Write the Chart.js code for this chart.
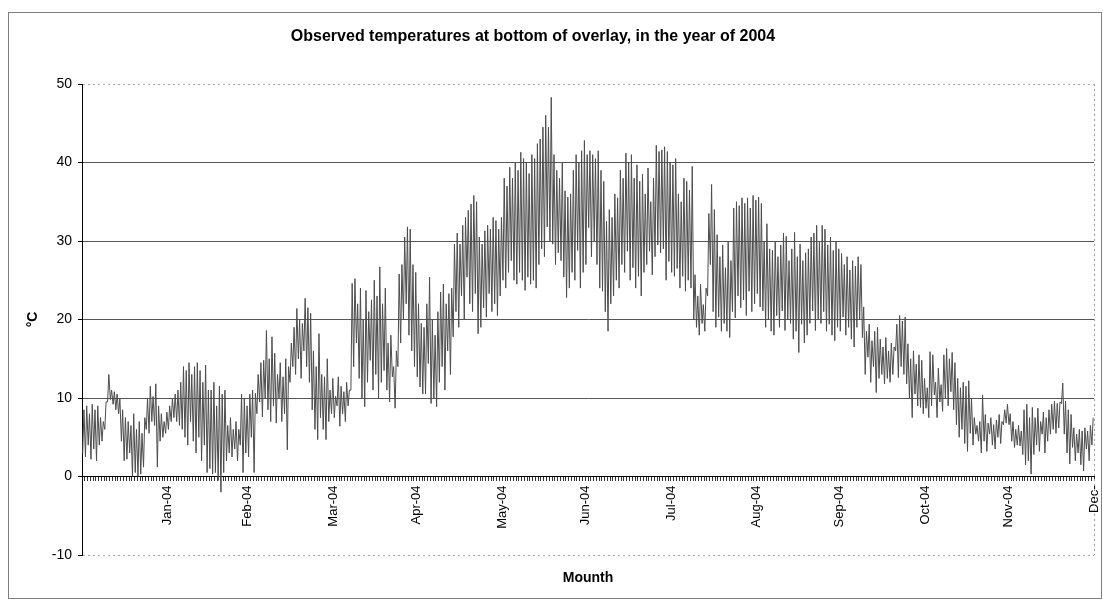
<!DOCTYPE html>
<html>
<head>
<meta charset="utf-8">
<title>Observed temperatures 2004</title>
<script src="https://cdn.jsdelivr.net/npm/chart.js@4.4.1/dist/chart.umd.min.js"></script>
<style>
    body { margin: 0; background: #fff; }
</style>
</head>
<body>
<canvas id="tempChart" width="1103" height="600"></canvas>
<script>
// Month labels sit at the last day of each month (day index)
const monthLabels = ['Jan-04', 'Feb-04', 'Mar-04', 'Apr-04', 'May-04', 'Jun-04', 'Jul-04', 'Aug-04', 'Sep-04', 'Oct-04', 'Nov-04', 'Dec-'];
const monthEnds = [31, 60, 91, 121, 152, 182, 213, 244, 274, 305, 335, 366];

// Daily highs (deg C), one value per day
const dailyHigh = [
    8.5, 9, 8, 9.2, 8.5, 9, 7.5, 7, 9.5, 13, 11, 10.8, 10.5, 10, 8.5, 7.5, 7, 6.5, 8, 6, 7, 5.5, 7.5, 10, 11.5, 10.2, 11.8, 9, 8, 7, 8.2,
    9, 10, 10.5, 11, 12, 14, 13.5, 14.5, 13, 14, 14.5, 13.5, 12, 14.2, 11, 11, 12, 9, 11.5, 10.5, 11, 6.5, 7.5, 6, 7, 6, 10.5, 10, 9,
    10.5, 11, 10.6, 13, 14.5, 14.8, 18.6, 15, 17.8, 15.7, 13, 14.5, 12.7, 15, 14, 17, 19, 21.4, 20, 19.5, 22.7, 21.5, 20.8, 16, 14, 18.2, 13, 12.7, 15, 11, 12.5,
    10.2, 12.7, 11.5, 10.8, 12, 11, 24.6, 25.2, 22, 24, 20, 23.7, 21, 22.5, 25, 23, 26.7, 22, 24, 17, 18, 14, 16, 25.8, 27, 30.5, 31.8, 31.5, 27, 26,
    22, 19.5, 19, 22, 25.4, 20, 18, 21, 23.5, 24.5, 22, 23.3, 24, 29.6, 31, 29.6, 32, 33, 33.9, 34.7, 35.8, 35, 30.5, 29.6, 31.3, 32, 31.5, 33, 32.6, 31.5, 33,
    38, 37, 39.4, 38, 40, 39, 41.3, 40.5, 40, 38.6, 41, 40.5, 42.4, 43, 44.5, 46, 44.5, 48.3, 41, 39, 38, 40, 36.4, 35.6, 36, 39, 41, 40, 41.5, 42.8,
    41, 41.5, 41, 40.5, 41.5, 39, 37.6, 32.5, 34, 33, 36, 35.5, 39, 38, 41.2, 40, 41, 38, 39.7, 37.6, 38.5, 36, 39.3, 35, 38, 42.2, 41.4, 41.6, 42, 41.4, 40,
    39.7, 40.5, 36, 35, 38, 37.6, 36.5, 39.5, 25.7, 23, 24.5, 21.9, 24, 33.5, 37.2, 34, 30.8, 28, 29.5, 26.6, 30, 27.5, 34.2, 35, 34.5, 35.5, 34.8, 35.5, 34.2, 35.8, 35.2,
    35.6, 34.8, 30, 32.2, 29, 28.8, 30, 28, 29.5, 31, 30.6, 27.5, 29, 31.1, 28, 29.6, 27.5, 28.5, 29, 30.5, 31, 32, 30, 32, 31.5, 29.5, 30.5, 28.8, 30, 29,
    28.4, 27, 28, 26.3, 27.5, 26.8, 28, 27, 21.6, 18.5, 19.4, 17.3, 18.5, 19, 17.5, 16.5, 17.7, 16, 17, 16.5, 19.4, 20.5, 19.8, 20.3, 16.9, 15, 16, 14.3, 15.5, 14.8, 12.5,
    11.3, 15.9, 15.5, 12, 13.8, 11.7, 15.5, 16.3, 15, 15.8, 14.5, 12.5, 11.3, 12, 11.5, 12.2, 10, 7.5, 6.5, 7, 10.4, 7.9, 6.8, 7.5, 6.6, 7.2, 7.9, 7, 8.5, 9.2,
    8, 7, 6, 6.5, 5.8, 8.5, 9.2, 7.5, 8.8, 7.5, 8.7, 7, 8.2, 7.5, 8.5, 9.2, 9.6, 9.3, 9.5, 11.9, 9.6, 8.5, 7.9, 6.2, 5.4, 6, 5.8, 6.2, 5.8, 6.5, 7.5
];

// Daily lows (deg C)
const dailyLow = [
    3, 2.5, 4, 2.2, 3.5, 2, 4, 4.5, 6, 9.5, 9.8, 9.2, 8.5, 8, 4.5, 2, 2.2, 3, 0, 0.5, 0, 0.3, 1.2, 6, 5.5, 7, 6.5, 1.2, 4.5, 5, 5.5,
    6, 7, 7.5, 7, 6.5, 6, 5, 4, 7, 4.5, 3, 5, 2, 4, 0.5, 1, 0.3, 0.5, -0.5, -2, 0.5, 2, 3, 2.5, 3.5, 2, 4, 0.5, 3,
    2.5, 5, 0.5, 8, 9.5, 7.6, 10, 8.5, 7, 9, 6.8, 10, 7, 8, 3.4, 12, 14, 13, 15, 12.5, 16, 14, 12, 8.5, 6, 4.7, 7.5, 6, 4.7, 7, 8,
    7.5, 9, 6.4, 8, 7, 9, 11, 14, 17, 12.5, 10, 8.9, 12, 14.8, 11, 13, 10, 12, 13.5, 11, 9.5, 12.7, 8.7, 14, 17, 20, 22, 18, 16, 14,
    12.7, 11.4, 10.5, 10.5, 14.4, 9.3, 10, 8.9, 12, 14, 11, 16, 13, 17.8, 21, 19, 23, 20, 25.4, 22, 21, 23.3, 18.2, 19, 21.5, 20.3, 23.3, 21, 22, 20.5, 23,
    25, 24, 26, 27.5, 25, 24.5, 26, 25, 23.7, 25.4, 24.5, 25, 24, 27, 29, 28, 31.8, 30, 29.6, 27, 28.5, 27.5, 25.4, 22.8, 24, 26, 25, 28.8, 24, 26,
    27, 31.7, 28, 30, 27, 24, 23.6, 21, 18.5, 22, 23, 25, 24, 27, 26, 28.7, 25, 26.6, 24, 25.5, 23, 26, 27, 28.7, 25.7, 28, 29.5, 28.5, 29, 25, 27.4,
    26, 25.5, 26.5, 24, 25.5, 23.6, 25, 24, 20, 19, 18, 19.5, 18.5, 23, 27, 21, 19, 20.3, 18.5, 19.5, 18.5, 17.7, 21, 20.2, 23, 21.5, 22.5, 20.5, 23.6, 21, 22,
    23.3, 21.6, 21.1, 19, 20, 18.5, 18, 20.5, 19, 21.1, 18.6, 20, 19.5, 17.5, 18.5, 15.8, 19.4, 17, 18, 19.5, 21.1, 18.6, 20, 19.5, 21, 18.5, 19.4, 18, 17.3, 19,
    18.5, 20.3, 18, 19, 17.5, 16.5, 19, 20, 17.7, 13, 15.2, 12, 14, 10.7, 12.5, 13, 11.8, 12.5, 12, 13, 16, 12.6, 14, 13, 11.8, 10, 7.5, 10.5, 9, 8.8, 8,
    8.7, 7.5, 9, 10.4, 7.5, 9.5, 8.3, 10, 9, 10.8, 8.5, 6.6, 5, 6, 4.2, 3.2, 5.5, 4, 5.4, 4.5, 3, 4.5, 3.2, 5.4, 4, 3.5, 5, 4.2, 6.6, 6.8,
    6.6, 4.5, 3.7, 4, 3.9, 2.8, 1.5, 2, 0.3, 2.8, 4, 3.2, 5.4, 3, 4.5, 5.4, 6, 5.5, 6.2, 9.3, 5.4, 3, 1.6, 3.7, 2, 3, 1.5, 0.7, 3.5, 2, 4
];

const titleText = 'Observed temperatures at bottom of overlay, in the year of 2004';

// Build the zig-zag series: early-morning low, then afternoon high, for every day
var points = [];
for (var d = 0; d < dailyHigh.length; d++) {
    points.push({ x: d + 0.25, y: dailyLow[d] });
    points.push({ x: d + 0.7, y: dailyHigh[d] });
}

// one small tick mark per day along the zero line
var dayTicks = [];
for (var t = 0; t <= monthEnds[monthEnds.length - 1]; t++) {
    dayTicks.push({ value: t });
}

function isEdgeLine(ctx) {
    return ctx.tick && (ctx.tick.value === 50 || ctx.tick.value === -10);
}

// Outer frame, dotted right edge of the plot and the chart heading
const framePlugin = {
    id: 'frame',
    beforeDraw: function(chart) {
        var ctx = chart.ctx;
        ctx.save();
        ctx.fillStyle = '#fff';
        ctx.fillRect(0, 0, chart.width, chart.height);
        ctx.strokeStyle = '#808080';
        ctx.lineWidth = 1;
        ctx.strokeRect(8.5, 12.5, 1093, 586);
        ctx.restore();
    },
    afterDraw: function(chart) {
        var ctx = chart.ctx;
        var area = chart.chartArea;
        ctx.save();
        ctx.strokeStyle = '#a0a0a0';
        ctx.lineWidth = 1;
        ctx.setLineDash([2, 3]);
        ctx.beginPath();
        ctx.moveTo(Math.round(area.right) + 0.5, area.top);
        ctx.lineTo(Math.round(area.right) + 0.5, area.bottom);
        ctx.stroke();
        ctx.setLineDash([]);
        ctx.fillStyle = '#000';
        ctx.font = 'bold 16px "Liberation Sans", Arial, sans-serif';
        ctx.textAlign = 'center';
        ctx.textBaseline = 'middle';
        ctx.fillText(titleText, 533, 37);
        ctx.restore();
    }
};

Chart.defaults.font.family = '"Liberation Sans", Arial, sans-serif';
Chart.defaults.color = '#000';

new Chart(document.getElementById('tempChart'), {
    type: 'line',
    data: {
        datasets: [{
            label: 'Temperature',
            data: points,
            borderColor: '#4d4d4d',
            borderWidth: 1,
            pointRadius: 0,
            tension: 0,
            fill: false
        }]
    },
    options: {
        responsive: false,
        animation: false,
        parsing: false,
        normalized: true,
        layout: {
            padding: { top: 84, right: 9, bottom: 0, left: 0 }
        },
        plugins: {
            legend: { display: false },
            tooltip: { enabled: false },
            title: {
                display: true,
                text: 'Mounth',
                position: 'bottom',
                fullSize: false,
                font: { size: 14, weight: 'bold' },
                padding: { top: 14.6, bottom: 13.6 }
            }
        },
        scales: {
            x: {
                type: 'linear',
                min: 0,
                max: monthEnds[monthEnds.length - 1],
                position: { y: 0 },
                afterBuildTicks: function(scale) {
                    scale.ticks = dayTicks.slice();
                },
                afterFit: function(scale) {
                    // labels hang below the zero line, so the axis takes no room of its own
                    scale.height = 0;
                    scale.paddingLeft = 0;
                    scale.paddingRight = 0;
                },
                grid: {
                    drawOnChartArea: false,
                    drawTicks: true,
                    tickLength: 4,
                    color: '#333'
                },
                border: { display: true, color: '#000', width: 1 },
                ticks: {
                    autoSkip: false,
                    minRotation: 90,
                    maxRotation: 90,
                    padding: 5,
                    font: { size: 13 },
                    callback: function(value) {
                        var i = monthEnds.indexOf(value);
                        return i < 0 ? '' : monthLabels[i];
                    }
                }
            },
            y: {
                min: -10,
                max: 50,
                afterFit: function(scale) {
                    scale.width = 82;
                },
                ticks: {
                    stepSize: 10,
                    padding: 6,
                    font: { size: 14 }
                },
                grid: {
                    tickLength: 4,
                    tickColor: '#000',
                    color: function(ctx) {
                        return isEdgeLine(ctx) ? '#a8a8a8' : '#555';
                    }
                },
                border: {
                    display: true,
                    color: '#000',
                    dash: function(ctx) {
                        return isEdgeLine(ctx) ? [2, 3] : [];
                    }
                },
                title: {
                    display: true,
                    text: '°C',
                    font: { size: 14, weight: 'bold' },
                    padding: { top: 25, bottom: 0 }
                }
            }
        }
    },
    plugins: [framePlugin]
});
</script>
</body>
</html>
